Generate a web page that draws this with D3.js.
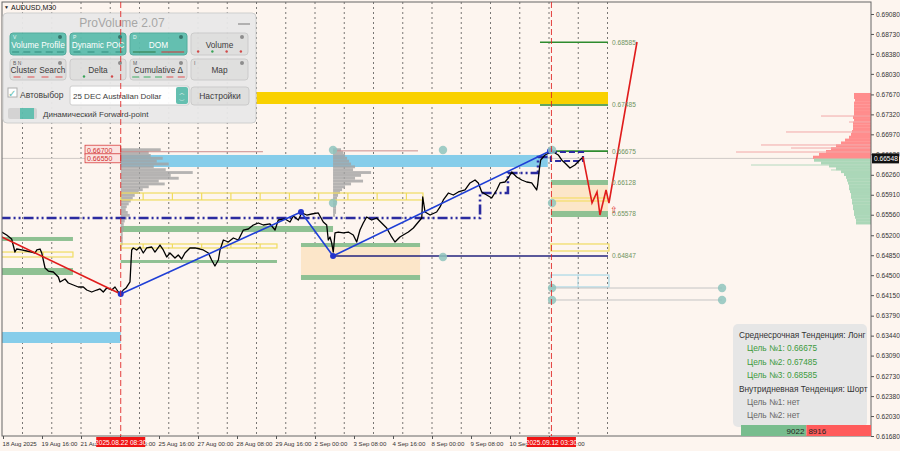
<!DOCTYPE html>
<html><head><meta charset="utf-8">
<script src="https://cdn.jsdelivr.net/npm/d3@7"></script>
<style>body{margin:0;background:#fdf5ef;}svg{display:block;font-family:"Liberation Sans",Arial,sans-serif;}</style>
</head><body><svg id="c" width="900" height="451"></svg>
<script>
// ---------------- DATA ----------------
const yTicks = [0.69080,0.68730,0.68380,0.68030,0.67670,0.67320,0.66970,0.66620,0.66260,0.65910,0.65560,0.65200,0.64850,0.64500,0.64150,0.63790,0.63440,0.63090,0.62730,0.62380,0.62030,0.61680];
const xTickHours = [0,32,64,96,128,160,192,224,256,288,320,352,384,416,448];
const xTickLabels = ["18 Aug 2025","19 Aug 16:00","21 Aug 00:00","22 Aug 08:00","25 Aug 16:00","27 Aug 00:00","28 Aug 08:00","29 Aug 16:00","2 Sep 00:00","3 Sep 08:00","4 Sep 16:00","8 Sep 00:00","9 Sep 08:00","10 Sep 16:00","12 Sep 00:00"];
const gridHours = [16,40,64,88,112,136,160,184,208,232,256,280,304,328,352,376,400,424,448,472,496];
const sessionMarks = [{h:96.6,label:"2025.08.22 08:30"},{h:450,label:"2025.09.12 03:30"}];
const currentPrice = 0.66548;

const priceSeries = [[-1,0.65257],[3.0,0.65205],[7.1,0.65135],[9.8,0.64906],[11.2,0.64959],[15.3,0.64942],[19.4,0.64924],[23.5,0.64906],[26.3,0.64889],[27.7,0.64942],[30.4,0.64959],[31.8,0.64889],[34.5,0.64626],[37.2,0.64573],[41.3,0.64556],[45.4,0.64468],[46.8,0.64381],[50.9,0.64433],[53.6,0.64363],[57.7,0.64328],[61.8,0.64293],[65.9,0.64293],[68.7,0.64240],[72.8,0.64205],[76.9,0.64240],[79.6,0.64258],[82.3,0.64205],[85.1,0.64275],[89.2,0.64240],[91.9,0.64293],[94.6,0.64205],[96.6,0.64170],[98.7,0.64240],[100.9,0.64275],[104.2,0.64381],[105.0,0.64714],[105.6,0.64942],[106.9,0.64977],[109.7,0.64942],[112.4,0.64994],[115.1,0.64889],[117.9,0.64977],[122.0,0.64994],[124.7,0.64906],[128.8,0.65029],[131.5,0.64942],[134.3,0.64819],[137.0,0.64889],[141.1,0.64801],[143.8,0.64854],[146.6,0.64784],[149.3,0.64889],[153.4,0.64977],[157.5,0.64977],[161.6,0.64959],[164.3,0.64942],[168.5,0.64889],[171.2,0.64766],[173.9,0.64661],[176.7,0.64766],[178.1,0.64942],[180.8,0.65117],[184.9,0.65082],[189.0,0.65152],[193.1,0.65117],[197.2,0.65292],[201.3,0.65310],[205.4,0.65380],[209.5,0.65415],[213.6,0.65380],[219.1,0.65398],[223.2,0.65292],[225.9,0.65468],[231.4,0.65485],[235.5,0.65433],[238.2,0.65538],[242.3,0.65468],[245.1,0.65591],[249.2,0.65555],[253.3,0.65573],[258.7,0.65591],[262.8,0.65433],[265.6,0.65380],[266.9,0.65117],[268.3,0.65170],[269.7,0.65064],[271.0,0.64906],[272.4,0.65240],[275.1,0.65257],[279.2,0.65240],[283.3,0.65257],[287.4,0.65205],[290.2,0.65082],[292.9,0.65292],[295.6,0.65415],[298.4,0.65520],[302.5,0.65468],[306.6,0.65503],[310.7,0.65415],[314.8,0.65328],[318.9,0.65170],[321.6,0.65082],[325.7,0.65170],[328.4,0.65205],[332.6,0.65257],[336.7,0.65328],[340.8,0.65433],[343.6,0.65503],[344.4,0.65871],[346.3,0.65608],[350.4,0.65555],[355.8,0.65608],[358.6,0.65696],[361.3,0.65819],[365.4,0.65941],[369.5,0.65906],[373.6,0.65959],[379.1,0.65994],[383.2,0.66117],[387.3,0.66169],[390.0,0.66117],[392.8,0.65959],[396.9,0.65906],[401.0,0.65854],[405.1,0.65994],[407.8,0.66117],[411.9,0.66134],[414.6,0.66204],[417.4,0.66310],[421.5,0.66222],[425.6,0.66169],[429.7,0.66134],[433.8,0.66117],[437.9,0.65994],[438.7,0.66082],[440.0,0.66345],[441.2,0.66520],[444.7,0.66608],[448.2,0.66643],[451.5,0.66660],[455.6,0.66608],[458.4,0.66520],[461.1,0.66467],[465.2,0.66380],[469.3,0.66432],[473.4,0.66520],[476.1,0.66573]];

const redTrend = [[-1,0.6517],[96.6,0.6417]];
const zigzag = [[96.6,0.6417],[244.5,0.65608],[270.8,0.64836],[448.8,0.66678]];
const dashDotSteps = [[-2,0.65503],[391.4,0.65503],[391.4,0.65941],[414.3,0.65941],[414.3,0.66292],[439,0.66292],[439,0.66573],[449.6,0.66573]];
const dashBox = {h0:449.6,h1:475.9,p0:0.66660,p1:0.66502};
const forecast = [[475.9,0.66573],[483.3,0.65766],[487.4,0.65959],[489.8,0.65555],[494.8,0.65994],[497.2,0.65766],[520.2,0.68589]];

const blueBands = [{h0:96.6,h1:447,p0:0.66608,p1:0.66397},{h0:-2,h1:96.6,p0:0.63504,p1:0.63311}];
const greenBands = [
 {h0:-2,h1:57.4,p0:0.65170,p1:0.65100},
 {h0:-2,h1:57.4,p0:0.64626,p1:0.64503},
 {h0:96.6,h1:270.8,p0:0.65363,p1:0.65257},
 {h0:96.6,h1:224.8,p0:0.64766,p1:0.64714},
 {h0:244.5,h1:342.2,p0:0.65064,p1:0.64994},
 {h0:244.5,h1:342.2,p0:0.64503,p1:0.64416},
 {h0:449.6,h1:496.4,p0:0.66169,p1:0.66082},
 {h0:449.6,h1:496.4,p0:0.65626,p1:0.65520}];
const peachZones = [{h0:244.5,h1:342.2,p0:0.65047,p1:0.64416},{h0:449.6,h1:496.4,p0:0.66117,p1:0.65555}];
const goldBand = {h0:208,h1:496.4,p0:0.67712,p1:0.67502};
const yellowBoxes = [
 {h0:96.6,h1:344.6,p0:0.65941,p1:0.65819,divs:[115,139,163,187,211,235,259,283,307,331]},
 {h0:96.6,h1:224.8,p0:0.65047,p1:0.64977,divs:[115,139,163,187,211]},
 {h0:-2,h1:57.4,p0:0.64906,p1:0.64819,divs:[33]},
 {h0:449.6,h1:497.2,p0:0.65047,p1:0.64924,divs:[]}];
const yellowLines = [{h0:449.6,h1:496.4,p:0.65854},{h0:449.6,h1:496.4,p:0.65801}];
const cyanBox = {h0:449.6,h1:497.2,p0:0.64503,p1:0.64293,divs:[471.8]};
const grayLines = [{h0:449.6,h1:590,p:0.64275},{h0:449.6,h1:590,p:0.64065}];
const navyLine = {h0:270.8,h1:496.4,p:0.64836};
const pocLines = [{h0:96.6,h1:213.3,p:0.66665},{h0:270.8,h1:340.5,p:0.66680}];
const markers = [[270.8,0.66695],[270.8,0.65766],[361,0.66695],[361,0.64819],[450.5,0.66695],[450.5,0.65766],[450.5,0.64275],[450.5,0.64065],[590,0.64275],[590,0.64065]];
const targetLines = [{p:0.68585,h0:440.6,h1:496.4},{p:0.67485,h0:440.6,h1:496.4},{p:0.66675,h0:449.6,h1:496.4}];
const levelLabels = [0.68585,0.67485,0.66675,0.66128,0.65578,0.64847];
const redPriceTags = [0.66700,0.66550];

// volume profiles (price top, step 0.0005 downwards)
const profile1 = {h:96.6, top:0.6670, vols:[40,28,30,42,36,48,33,45,72,50,58,38,44,28,22,18,14,12,10,8,6,5,7,9,6,4,3,3,3,2,2,2,2,2,1,1]};
const profile2 = {h:270.8, top:0.6670, vols:[8,10,12,14,16,18,22,20,38,28,22,30,18,12,9,7,5,4,4,3,3,3,3,2]};
const askTop = 0.6767;
const askVol = [17,17,16,17,17,17,17,17,18,17,18,18,18,19,20,22,26,30,35,40,45,52,58];
const bidTop = 0.6652;
const bidVol = [57,50,42,35,30,27,25,24,23,22,22,21,20,20,19,19,18,18,17,17,16,15,15];
const spikes = [[0.67291,50,"a"],[0.67186,22,"a"],[0.67011,85,"a"],[0.66783,110,"a"],[0.66730,80,"a"],[0.66660,135,"a"],[0.66432,120,"b"],[0.66345,40,"b"]];
const buyTotal = 9022, sellTotal = 8916;

const infoLines = [
 {t:"Среднесрочная Тенденция: Лонг",c:"#333",ind:0},
 {t:"Цель №1: 0.66675",c:"#3c9a3c",ind:1},
 {t:"Цель №2: 0.67485",c:"#3c9a3c",ind:1},
 {t:"Цель №3: 0.68585",c:"#3c9a3c",ind:1},
 {t:"Внутридневная Тенденция: Шорт",c:"#333",ind:0},
 {t:"Цель №1: нет",c:"#666",ind:1},
 {t:"Цель №2: нет",c:"#666",ind:1}];

const panelButtons = [
 {t:"Volume Profile",k:"V",on:true,marks:["#2f8f80","#2f8f80","#2f8f80","#2f8f80","#2f8f80"],mt:"dash"},
 {t:"Dynamic POC",k:"P",on:true,marks:["#2f8f80","#2f8f80","#2f8f80","#2f8f80"],mt:"dash"},
 {t:"DOM",k:"D",on:true,marks:["#2e7d4a","#c04040"],mt:"line"},
 {t:"Volume",k:"",on:false,marks:["#d04040","#30a050","#d04040","#d04040"],mt:"dot"},
 {t:"Cluster Search",k:"B  N",on:false,marks:["#e06060","#e06060","#e06060","#e06060"],mt:"dash"},
 {t:"Delta",k:"",on:false,marks:["#30a050","#d04040"],mt:"dot"},
 {t:"Cumulative Δ",k:"M",on:false,marks:["#50b070","#50b070","#50b070","#e06060","#e06060"],mt:"dash"},
 {t:"Map",k:"I",on:false,marks:[],mt:"dot"}];

// ---------------- SCALES ----------------
const svg = d3.select("#c");
const L=2, R=871, T=2, B=436;
const x = d3.scaleLinear().domain([0,448]).range([3,549]);
const y = d3.scaleLinear().domain([0.61680,0.69080]).range([436,14]);
const vx = d3.scaleLinear().domain([0,100]).range([0,100]);

svg.append("rect").attr("width",900).attr("height",451).attr("fill","#fdf5ef");
svg.append("clipPath").attr("id","clip").append("rect").attr("x",L).attr("y",T).attr("width",R-L).attr("height",B-T);
const g = svg.append("g").attr("clip-path","url(#clip)");

function band(sel, d, fill){ return sel.append("rect").attr("x",x(d.h0)).attr("width",x(d.h1)-x(d.h0)).attr("y",y(d.p0)).attr("height",y(d.p1)-y(d.p0)).attr("fill",fill); }

// grid
g.selectAll(".grid").data(gridHours).join("line").attr("x1",d=>x(d)).attr("x2",d=>x(d)).attr("y1",T).attr("y2",B)
 .attr("stroke","#3a3a3a").attr("stroke-width",0.9).attr("stroke-dasharray","2,3").attr("opacity",0.75);
// current price line
g.append("line").attr("x1",L).attr("x2",R).attr("y1",y(currentPrice)).attr("y2",y(currentPrice)).attr("stroke","#cfcac6").attr("stroke-width",1);

// zones
peachZones.forEach(d=>band(g,d,"#fce6c9"));
band(g,goldBand,"#f9d100");
blueBands.forEach(d=>band(g,d,"#86cdea"));
greenBands.forEach(d=>band(g,d,"#8fc193"));

// gray volume profiles
const lv = 0.0005;
[profile1,profile2].forEach(pr=>{
  g.append("g").selectAll("rect").data(pr.vols).join("rect")
   .attr("x",x(pr.h)).attr("width",d=>vx(d))
   .attr("y",(d,i)=>y(pr.top - i*lv + lv/2)).attr("height",(d,i)=>y(pr.top - i*lv - lv/2)-y(pr.top - i*lv + lv/2))
   .attr("fill","#a2a2a2").attr("opacity",0.8);
});
pocLines.forEach(d=>g.append("line").attr("x1",x(d.h0)).attr("x2",x(d.h1)).attr("y1",y(d.p)).attr("y2",y(d.p)).attr("stroke","#c98d8d").attr("stroke-width",1));

// yellow outline boxes
yellowBoxes.forEach(d=>{
  band(g,d,"none").attr("stroke","#f0dc60").attr("stroke-width",1.2);
  d.divs.forEach(v=>g.append("line").attr("x1",x(v)).attr("x2",x(v)).attr("y1",y(d.p0)).attr("y2",y(d.p1)).attr("stroke","#f0dc60").attr("stroke-width",1.2));
});
yellowLines.forEach(d=>g.append("line").attr("x1",x(d.h0)).attr("x2",x(d.h1)).attr("y1",y(d.p)).attr("y2",y(d.p)).attr("stroke","#f3dc55").attr("stroke-width",1));
band(g,cyanBox,"none").attr("stroke","#a9d8e6").attr("stroke-width",1.2);
cyanBox.divs.forEach(v=>g.append("line").attr("x1",x(v)).attr("x2",x(v)).attr("y1",y(cyanBox.p0)).attr("y2",y(cyanBox.p1)).attr("stroke","#a9d8e6"));
grayLines.forEach(d=>g.append("line").attr("x1",x(d.h0)).attr("x2",x(d.h1)).attr("y1",y(d.p)).attr("y2",y(d.p)).attr("stroke","#c4c4c4").attr("stroke-width",1));

// target lines
targetLines.forEach(d=>g.append("line").attr("x1",x(d.h0)).attr("x2",x(d.h1)).attr("y1",y(d.p)).attr("y2",y(d.p)).attr("stroke","#2e8b2e").attr("stroke-width",1.6));
// navy line
g.append("line").attr("x1",x(navyLine.h0)).attr("x2",x(navyLine.h1)).attr("y1",y(navyLine.p)).attr("y2",y(navyLine.p)).attr("stroke","#23237e").attr("stroke-width",1.5);

const line = d3.line().x(d=>x(d[0])).y(d=>y(d[1]));
// dash-dot step line
g.append("path").attr("d",line(dashDotSteps)).attr("fill","none").attr("stroke","#2b2ba0").attr("stroke-width",2.6).attr("stroke-dasharray","10,3,2,3,2,3");
band(g,dashBox,"none").attr("stroke","#2b2ba0").attr("stroke-width",2.2).attr("stroke-dasharray","6,3");

// price
g.append("path").attr("d",line(priceSeries)).attr("fill","none").attr("stroke","#000").attr("stroke-width",1.3).attr("stroke-linejoin","round");
// trend lines
g.append("path").attr("d",line(redTrend)).attr("fill","none").attr("stroke","#e01c1c").attr("stroke-width",1.6);
g.append("path").attr("d",line(zigzag)).attr("fill","none").attr("stroke","#1f3fd6").attr("stroke-width",1.6);
g.selectAll(".zz").data(zigzag).join("circle").attr("cx",d=>x(d[0])).attr("cy",d=>y(d[1])).attr("r",3).attr("fill","#2233cc");
g.append("path").attr("d",line(forecast)).attr("fill","none").attr("stroke","#e01c1c").attr("stroke-width",1.6);
g.append("text").attr("x",x(497.2)+1).attr("y",y(0.65600)+1).attr("font-size",9).attr("fill","#e01c1c").text("⇧");

// markers
g.selectAll(".mk").data(markers).join("circle").attr("cx",d=>x(d[0])).attr("cy",d=>y(d[1])).attr("r",4.2).attr("fill","#8fc4bd").attr("opacity",0.85);

// right volume histogram
const ask = g.append("g"), bid = g.append("g");
ask.selectAll("rect").data(askVol).join("rect").attr("x",d=>R-vx(d)).attr("width",d=>vx(d))
  .attr("y",(d,i)=>y(askTop - i*lv + lv/2)).attr("height",(d,i)=>y(askTop-i*lv-lv/2)-y(askTop-i*lv+lv/2)+0.3).attr("fill","#ff8d8d");
bid.selectAll("rect").data(bidVol).join("rect").attr("x",d=>R-vx(d)).attr("width",d=>vx(d))
  .attr("y",(d,i)=>y(bidTop - i*lv + lv/2)).attr("height",(d,i)=>y(bidTop-i*lv-lv/2)-y(bidTop-i*lv+lv/2)+0.3).attr("fill","#abd7b8");
g.selectAll(".sp").data(spikes).join("line").attr("x1",d=>R-vx(d[1])).attr("x2",R).attr("y1",d=>y(d[0])).attr("y2",d=>y(d[0]))
  .attr("stroke",d=>d[2]==="a"?"#f2a8a8":"#b4d9be").attr("stroke-width",1);

// level labels
svg.selectAll(".ll").data(levelLabels).join("text").attr("x",x(499.7)).attr("y",d=>y(d)+2.5).attr("font-size",6.6).attr("fill","#6f9460").text(d=>d.toFixed(5));
// red price tags
redPriceTags.forEach(p=>{
  svg.append("rect").attr("x",x(67.3)).attr("y",y(p)-4.5).attr("width",x(96.6)-x(67.3)).attr("height",9).attr("fill","#fbe3e0").attr("stroke","#d84040").attr("stroke-width",0.8);
  svg.append("text").attr("x",x(67.3)+2).attr("y",y(p)+2.8).attr("font-size",7).attr("fill","#d03030").text(p.toFixed(5));
});

// frame & axes
svg.append("rect").attr("x",L).attr("y",T).attr("width",R-L).attr("height",B-T).attr("fill","none").attr("stroke","#666").attr("stroke-width",1);
const ya = svg.append("g").attr("transform",`translate(${R},0)`).call(d3.axisRight(y).tickValues(yTicks).tickFormat(d3.format(".5f")).tickSize(3).tickPadding(2));
ya.select(".domain").remove();
ya.selectAll("text").attr("font-size",6.6).attr("fill","#333").attr("font-family","Liberation Sans, Arial");
ya.selectAll("line").attr("stroke","#555");
const xa = svg.append("g").attr("transform",`translate(0,${B})`).call(d3.axisBottom(x).tickValues(xTickHours).tickFormat((d,i)=>xTickLabels[i]).tickSize(3).tickPadding(3));
xa.select(".domain").remove();
xa.selectAll("text").attr("font-size",6.1).attr("fill","#333").attr("text-anchor","start").attr("dx",-1).attr("font-family","Liberation Sans, Arial");
xa.selectAll("line").attr("stroke","#555");

// current price tag
svg.append("rect").attr("x",R+1).attr("y",y(currentPrice)-5).attr("width",27).attr("height",10).attr("fill","#111");
svg.append("text").attr("x",R+3).attr("y",y(currentPrice)+2.5).attr("font-size",6.6).attr("fill","#fff").text(currentPrice.toFixed(5));

// title
svg.append("text").attr("x",4).attr("y",9).attr("font-size",5).attr("fill","#222").text("▼");
svg.append("text").attr("x",11).attr("y",9.5).attr("font-size",7).attr("fill","#111").text("AUDUSD,M30");

// ---------------- PANEL ----------------
const p = svg.append("g").attr("opacity",0.95);
p.append("rect").attr("x",3).attr("y",13).attr("width",253).attr("height",110).attr("rx",4).attr("fill","#e9e9e9").attr("stroke","#cdcdcd");
p.append("text").attr("x",122).attr("y",27).attr("text-anchor","middle").attr("font-size",12).attr("fill","#a3a3a3").text("ProVolume 2.07");
p.append("line").attr("x1",238).attr("x2",250).attr("y1",24).attr("y2",24).attr("stroke","#999").attr("stroke-width",1.5);
const colX=[10,70,130,191], colW=[56,56,57,57], rowY=[33,59], rowH=[22,21];
panelButtons.forEach((b,i)=>{
  const c=i%4, r=Math.floor(i/4), bx=colX[c], by=rowY[r], bw=colW[c], bh=rowH[r];
  p.append("rect").attr("x",bx).attr("y",by).attr("width",bw).attr("height",bh).attr("rx",3).attr("fill",b.on?"#5cbdad":"#dedede").attr("stroke",b.on?"#4aa899":"#c9c9c9");
  p.append("text").attr("x",bx+bw/2).attr("y",by+bh/2+3.5).attr("text-anchor","middle").attr("font-size",8.3).attr("fill",b.on?"#fff":"#333").text(b.t);
  if(b.k) p.append("text").attr("x",bx+3).attr("y",by+6).attr("font-size",5).attr("fill",b.on?"#e8f7f4":"#555").text(b.k);
  p.append("circle").attr("cx",bx+bw-6).attr("cy",by+4).attr("r",2).attr("fill",b.on?"#2e6f66":"#888");
  const n=b.marks.length;
  b.marks.forEach((m,j)=>{
    const cx = bx + (j+0.5)*bw/n;
    if(b.mt==="dot") p.append("circle").attr("cx",cx).attr("cy",by+bh-3.5).attr("r",1.2).attr("fill",m);
    else if(b.mt==="line") p.append("line").attr("x1",cx-bw/n*0.4).attr("x2",cx+bw/n*0.4).attr("y1",by+bh-3).attr("y2",by+bh-3).attr("stroke",m).attr("stroke-width",1.2);
    else p.append("line").attr("x1",cx-3.5).attr("x2",cx+3.5).attr("y1",by+bh-3).attr("y2",by+bh-3).attr("stroke",m).attr("stroke-width",1.2);
  });
});
p.append("rect").attr("x",8).attr("y",88).attr("width",9).attr("height",9).attr("fill","#fff").attr("stroke","#aaa");
p.append("text").attr("x",8).attr("y",97).attr("font-size",10).attr("fill","#5cbdad").text("✓");
p.append("text").attr("x",20).attr("y",98).attr("font-size",8.5).attr("fill","#333").text("Автовыбор");
p.append("rect").attr("x",70).attr("y",86).attr("width",119).attr("height",19).attr("rx",2).attr("fill","#fff").attr("stroke","#ccc");
p.append("text").attr("x",73).attr("y",99).attr("font-size",8).attr("fill","#333").text("25 DEC Australian Dollar");
p.append("rect").attr("x",176).attr("y",87).attr("width",12).attr("height",17).attr("rx",2).attr("fill","#5cbdad");
p.append("text").attr("x",182).attr("y",95).attr("text-anchor","middle").attr("font-size",6).attr("fill","#fff").text("︿");
p.append("text").attr("x",182).attr("y",103).attr("text-anchor","middle").attr("font-size",6).attr("fill","#fff").text("﹀");
p.append("rect").attr("x",191).attr("y",87).attr("width",58).attr("height",18).attr("rx",3).attr("fill","#dedede").attr("stroke","#c9c9c9");
p.append("text").attr("x",220).attr("y",99).attr("text-anchor","middle").attr("font-size",8.5).attr("fill","#333").text("Настройки");
p.append("rect").attr("x",8).attr("y",108).attr("width",29).attr("height",11).attr("rx",2).attr("fill","#d2d2d2");
p.append("rect").attr("x",20).attr("y",108).attr("width",14).attr("height",11).attr("fill","#5cbdad");
p.append("text").attr("x",43).attr("y",117).attr("font-size",8).attr("fill","#333").text("Динамический Forward-point");

// red session lines (on top)
svg.selectAll(".sess").data(sessionMarks).join("line").attr("x1",d=>x(d.h)).attr("x2",d=>x(d.h)).attr("y1",T).attr("y2",B)
  .attr("stroke","#e02020").attr("stroke-width",1).attr("stroke-dasharray","6,3").attr("opacity",0.85);
sessionMarks.forEach(d=>{
  svg.append("rect").attr("x",x(d.h)-24.5).attr("y",437).attr("width",49).attr("height",10).attr("fill","#f01414");
  svg.append("text").attr("x",x(d.h)).attr("y",445).attr("text-anchor","middle").attr("font-size",6.6).attr("fill","#fff").text(d.label);
});

// ---------------- INFO BOX ----------------
svg.append("rect").attr("x",733).attr("y",324).attr("width",134).attr("height",103).attr("rx",5).attr("fill","#e6e6e6");
svg.selectAll(".inf").data(infoLines).join("text").attr("x",d=>d.ind?747:739).attr("y",(d,i)=>338+i*13.4)
  .attr("font-size",8.3).attr("fill",d=>d.c).text(d=>d.t);
const bx = d3.scaleLinear().domain([0,buyTotal+sellTotal]).range([741,R]);
svg.append("rect").attr("x",bx(0)).attr("y",425).attr("width",bx(buyTotal)-bx(0)).attr("height",11).attr("fill","#78bd8e");
svg.append("rect").attr("x",bx(buyTotal)).attr("y",425).attr("width",bx(buyTotal+sellTotal)-bx(buyTotal)).attr("height",11).attr("fill","#ff5b5b");
svg.append("text").attr("x",bx(buyTotal)-2).attr("y",434).attr("text-anchor","end").attr("font-size",8).attr("fill","#222").text(buyTotal);
svg.append("text").attr("x",bx(buyTotal)+2).attr("y",434).attr("font-size",8).attr("fill","#222").text(sellTotal);
</script></body></html>
